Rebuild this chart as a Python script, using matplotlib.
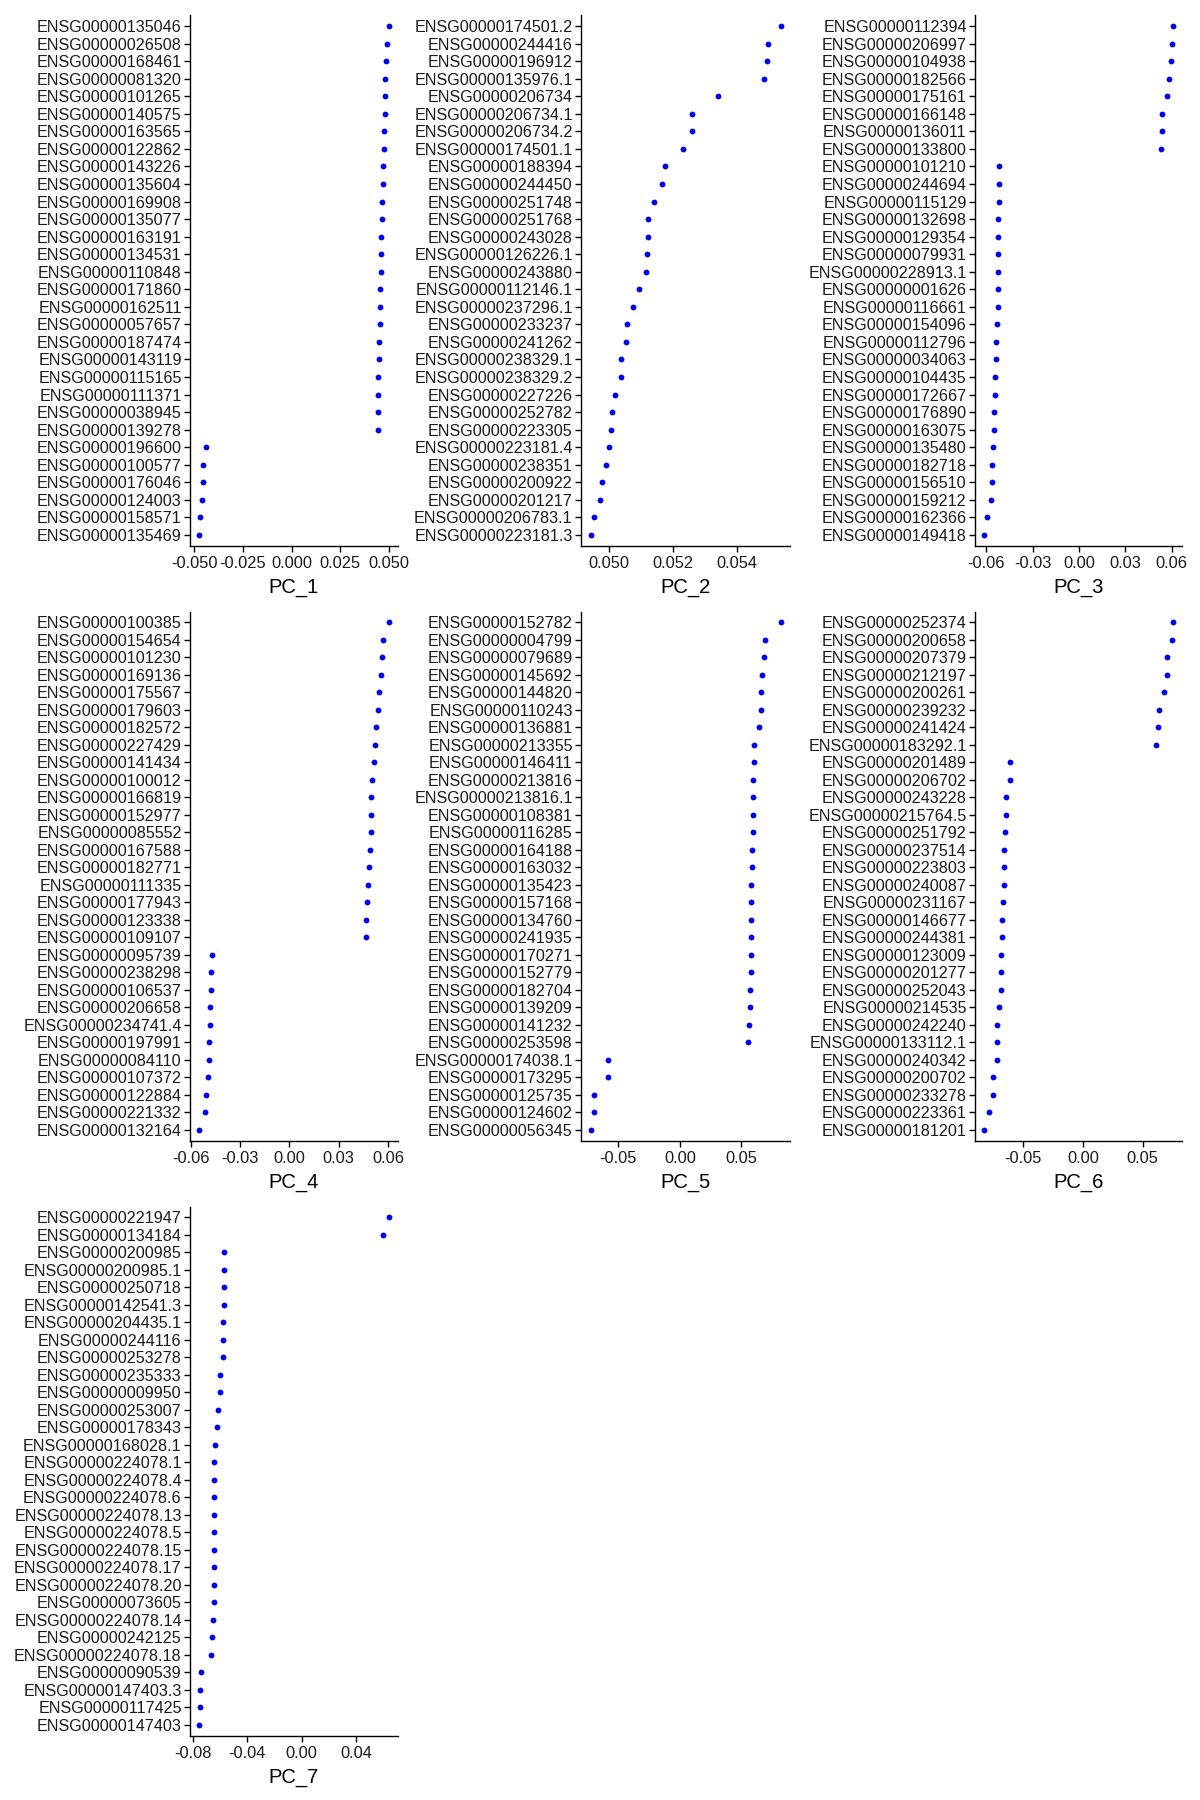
import matplotlib
matplotlib.use("Agg")
import matplotlib.pyplot as plt
import numpy as np

plt.rcParams['font.family'] = ['Liberation Sans', 'DejaVu Sans']
plt.rcParams['axes.unicode_minus'] = False

# ---------------- data (top-to-bottom order as displayed) ----------------
pc1_genes = ["ENSG00000135046", "ENSG00000026508", "ENSG00000168461", "ENSG00000081320",
             "ENSG00000101265", "ENSG00000140575", "ENSG00000163565", "ENSG00000122862",
             "ENSG00000143226", "ENSG00000135604", "ENSG00000169908", "ENSG00000135077",
             "ENSG00000163191", "ENSG00000134531", "ENSG00000110848", "ENSG00000171860",
             "ENSG00000162511", "ENSG00000057657", "ENSG00000187474", "ENSG00000143119",
             "ENSG00000115165", "ENSG00000111371", "ENSG00000038945", "ENSG00000139278",
             "ENSG00000196600", "ENSG00000100577", "ENSG00000176046", "ENSG00000124003",
             "ENSG00000158571", "ENSG00000135469"]
pc1_vals = [0.0498, 0.0490, 0.0485, 0.0479, 0.0479, 0.0479, 0.0474, 0.0474, 0.0469, 0.0469,
            0.0464, 0.0464, 0.0459, 0.0459, 0.0459, 0.0454, 0.0454, 0.0454, 0.0449, 0.0449,
            0.0443, 0.0443, 0.0443, 0.0443, -0.0440, -0.0455, -0.0455, -0.0462, -0.0468, -0.0473]
pc1_ticks = [-0.050, -0.025, 0.000, 0.025, 0.050]
pc1_ticklabels = ["-0.050", "-0.025", "0.000", "0.025", "0.050"]

pc2_genes = ["ENSG00000174501.2", "ENSG00000244416", "ENSG00000196912", "ENSG00000135976.1",
             "ENSG00000206734", "ENSG00000206734.1", "ENSG00000206734.2", "ENSG00000174501.1",
             "ENSG00000188394", "ENSG00000244450", "ENSG00000251748", "ENSG00000251768",
             "ENSG00000243028", "ENSG00000126226.1", "ENSG00000243880", "ENSG00000112146.1",
             "ENSG00000237296.1", "ENSG00000233237", "ENSG00000241262", "ENSG00000238329.1",
             "ENSG00000238329.2", "ENSG00000227226", "ENSG00000252782", "ENSG00000223305",
             "ENSG00000223181.4", "ENSG00000238351", "ENSG00000200922", "ENSG00000201217",
             "ENSG00000206783.1", "ENSG00000223181.3"]
pc2_vals = [0.05536, 0.05497, 0.05493, 0.05483, 0.05341, 0.05260, 0.05260, 0.05232, 0.05175,
            0.05166, 0.05141, 0.05122, 0.05122, 0.05119, 0.05115, 0.05093, 0.05075, 0.05056,
            0.05052, 0.05037, 0.05037, 0.05018, 0.05008, 0.05005, 0.04999, 0.04990, 0.04977,
            0.04971, 0.04952, 0.04942]
pc2_ticks = [0.050, 0.052, 0.054]
pc2_ticklabels = ["0.050", "0.052", "0.054"]

pc3_genes = ["ENSG00000112394", "ENSG00000206997", "ENSG00000104938", "ENSG00000182566",
             "ENSG00000175161", "ENSG00000166148", "ENSG00000136011", "ENSG00000133800",
             "ENSG00000101210", "ENSG00000244694", "ENSG00000115129", "ENSG00000132698",
             "ENSG00000129354", "ENSG00000079931", "ENSG00000228913.1", "ENSG00000001626",
             "ENSG00000116661", "ENSG00000154096", "ENSG00000112796", "ENSG00000034063",
             "ENSG00000104435", "ENSG00000172667", "ENSG00000176890", "ENSG00000163075",
             "ENSG00000135480", "ENSG00000182718", "ENSG00000156510", "ENSG00000159212",
             "ENSG00000162366", "ENSG00000149418"]
pc3_vals = [0.0606, 0.0600, 0.0594, 0.0581, 0.0568, 0.0535, 0.0535, 0.0529, -0.0516, -0.0516,
            -0.0516, -0.0523, -0.0523, -0.0523, -0.0523, -0.0523, -0.0523, -0.0529, -0.0535,
            -0.0535, -0.0542, -0.0542, -0.0548, -0.0548, -0.0557, -0.0563, -0.0563, -0.0570,
            -0.0594, -0.0613]
pc3_ticks = [-0.06, -0.03, 0.00, 0.03, 0.06]
pc3_ticklabels = ["-0.06", "-0.03", "0.00", "0.03", "0.06"]

pc4_genes = ["ENSG00000100385", "ENSG00000154654", "ENSG00000101230", "ENSG00000169136",
             "ENSG00000175567", "ENSG00000179603", "ENSG00000182572", "ENSG00000227429",
             "ENSG00000141434", "ENSG00000100012", "ENSG00000166819", "ENSG00000152977",
             "ENSG00000085552", "ENSG00000167588", "ENSG00000182771", "ENSG00000111335",
             "ENSG00000177943", "ENSG00000123338", "ENSG00000109107", "ENSG00000095739",
             "ENSG00000238298", "ENSG00000106537", "ENSG00000206658", "ENSG00000234741.4",
             "ENSG00000197991", "ENSG00000084110", "ENSG00000107372", "ENSG00000122884",
             "ENSG00000221332", "ENSG00000132164"]
pc4_vals = [0.0604, 0.0569, 0.0563, 0.0557, 0.0543, 0.0537, 0.0525, 0.0519, 0.0513, 0.0506,
            0.0500, 0.0494, 0.0494, 0.0488, 0.0482, 0.0476, 0.0470, 0.0464, 0.0464, -0.0474,
            -0.0480, -0.0480, -0.0486, -0.0486, -0.0492, -0.0492, -0.0498, -0.0511, -0.0517,
            -0.0549]
pc4_ticks = [-0.06, -0.03, 0.00, 0.03, 0.06]
pc4_ticklabels = ["-0.06", "-0.03", "0.00", "0.03", "0.06"]

pc5_genes = ["ENSG00000152782", "ENSG00000004799", "ENSG00000079689", "ENSG00000145692",
             "ENSG00000144820", "ENSG00000110243", "ENSG00000136881", "ENSG00000213355",
             "ENSG00000146411", "ENSG00000213816", "ENSG00000213816.1", "ENSG00000108381",
             "ENSG00000116285", "ENSG00000164188", "ENSG00000163032", "ENSG00000135423",
             "ENSG00000157168", "ENSG00000134760", "ENSG00000241935", "ENSG00000170271",
             "ENSG00000152779", "ENSG00000182704", "ENSG00000139209", "ENSG00000141232",
             "ENSG00000253598", "ENSG00000174038.1", "ENSG00000173295", "ENSG00000125735",
             "ENSG00000124602", "ENSG00000056345"]
pc5_vals = [0.0817, 0.0695, 0.0687, 0.0670, 0.0662, 0.0662, 0.0646, 0.0605, 0.0605, 0.0597,
            0.0597, 0.0597, 0.0597, 0.0589, 0.0589, 0.0580, 0.0580, 0.0580, 0.0580, 0.0580,
            0.0580, 0.0572, 0.0572, 0.0564, 0.0556, -0.0586, -0.0586, -0.0700, -0.0700, -0.0725]
pc5_ticks = [-0.05, 0.00, 0.05]
pc5_ticklabels = ["-0.05", "0.00", "0.05"]

pc6_genes = ["ENSG00000252374", "ENSG00000200658", "ENSG00000207379", "ENSG00000212197",
             "ENSG00000200261", "ENSG00000239232", "ENSG00000241424", "ENSG00000183292.1",
             "ENSG00000201489", "ENSG00000206702", "ENSG00000243228", "ENSG00000215764.5",
             "ENSG00000251792", "ENSG00000237514", "ENSG00000223803", "ENSG00000240087",
             "ENSG00000231167", "ENSG00000146677", "ENSG00000244381", "ENSG00000123009",
             "ENSG00000201277", "ENSG00000252043", "ENSG00000214535", "ENSG00000242240",
             "ENSG00000133112.1", "ENSG00000240342", "ENSG00000200702", "ENSG00000233278",
             "ENSG00000223361", "ENSG00000181201"]
pc6_vals = [0.0750, 0.0742, 0.0700, 0.0700, 0.0675, 0.0633, 0.0625, 0.0608, -0.0608, -0.0608,
            -0.0642, -0.0642, -0.0650, -0.0658, -0.0658, -0.0658, -0.0667, -0.0675, -0.0675,
            -0.0683, -0.0683, -0.0683, -0.0700, -0.0717, -0.0717, -0.0717, -0.0750, -0.0750,
            -0.0783, -0.0825]
pc6_ticks = [-0.05, 0.00, 0.05]
pc6_ticklabels = ["-0.05", "0.00", "0.05"]

pc7_genes = ["ENSG00000221947", "ENSG00000134184", "ENSG00000200985", "ENSG00000200985.1",
             "ENSG00000250718", "ENSG00000142541.3", "ENSG00000204435.1", "ENSG00000244116",
             "ENSG00000253278", "ENSG00000235333", "ENSG00000009950", "ENSG00000253007",
             "ENSG00000178343", "ENSG00000168028.1", "ENSG00000224078.1", "ENSG00000224078.4",
             "ENSG00000224078.6", "ENSG00000224078.13", "ENSG00000224078.5", "ENSG00000224078.15",
             "ENSG00000224078.17", "ENSG00000224078.20", "ENSG00000073605", "ENSG00000224078.14",
             "ENSG00000242125", "ENSG00000224078.18", "ENSG00000090539", "ENSG00000147403.3",
             "ENSG00000117425", "ENSG00000147403"]
pc7_vals = [0.0640, 0.0599, -0.0572, -0.0572, -0.0572, -0.0572, -0.0579, -0.0579, -0.0579,
            -0.0601, -0.0601, -0.0616, -0.0623, -0.0638, -0.0645, -0.0645, -0.0645, -0.0645,
            -0.0645, -0.0645, -0.0645, -0.0645, -0.0645, -0.0653, -0.0660, -0.0667, -0.0736,
            -0.0744, -0.0744, -0.0751]
pc7_ticks = [-0.08, -0.04, 0.00, 0.04]
pc7_ticklabels = ["-0.08", "-0.04", "0.00", "0.04"]

titles = ["PC_1", "PC_2", "PC_3", "PC_4", "PC_5", "PC_6", "PC_7"]
all_genes = [pc1_genes, pc2_genes, pc3_genes, pc4_genes, pc5_genes, pc6_genes, pc7_genes]
all_vals = [pc1_vals, pc2_vals, pc3_vals, pc4_vals, pc5_vals, pc6_vals, pc7_vals]
all_ticks = [pc1_ticks, pc2_ticks, pc3_ticks, pc4_ticks, pc5_ticks, pc6_ticks, pc7_ticks]
all_ticklabels = [pc1_ticklabels, pc2_ticklabels, pc3_ticklabels, pc4_ticklabels,
                  pc5_ticklabels, pc6_ticklabels, pc7_ticklabels]

# ---------------- layout (pixels) ----------------
W, H = 1200, 1800
col_x = [(190, 398), (581, 790), (975, 1182)]
row_y = [(15.5, 545.5), (611.5, 1140.5), (1206.5, 1735.5)]

fig = plt.figure(figsize=(W / 100, H / 100), dpi=100)
fig.patch.set_facecolor("white")

for i in range(7):
    r, c = divmod(i, 3)
    x0, x1 = col_x[c]
    y0, y1 = row_y[r]
    ax = fig.add_axes([x0 / W, 1 - y1 / H, (x1 - x0) / W, (y1 - y0) / H])
    genes = all_genes[i]
    vals = np.array(all_vals[i])
    n = len(genes)
    ypos = np.arange(n)
    ax.plot(vals, ypos, 'o', color='#0000EE', markersize=4.2, markeredgewidth=0)
    lo, hi = vals.min(), vals.max()
    pad = 0.05 * (hi - lo)
    ax.set_xlim(lo - pad, hi + pad)
    ax.set_ylim(n - 1 + 0.6, -0.6)
    ax.set_yticks(ypos)
    ax.set_yticklabels(genes, fontsize=11.6, color='#1a1a1a')
    ax.set_xticks(all_ticks[i])
    ax.set_xticklabels(all_ticklabels[i], fontsize=11.8, color='#1a1a1a')
    ax.set_xlabel(titles[i], fontsize=14.5, labelpad=5, color='black')
    for s in ['top', 'right']:
        ax.spines[s].set_visible(False)
    for s in ['left', 'bottom']:
        ax.spines[s].set_linewidth(1.0)
        ax.spines[s].set_color('black')
    ax.tick_params(axis='both', length=4, width=1.0, color='black', pad=2)
    ax.tick_params(axis='x', pad=3.5)
    ax.set_facecolor('white')

fig.savefig("out.png", dpi=100, facecolor="white")
